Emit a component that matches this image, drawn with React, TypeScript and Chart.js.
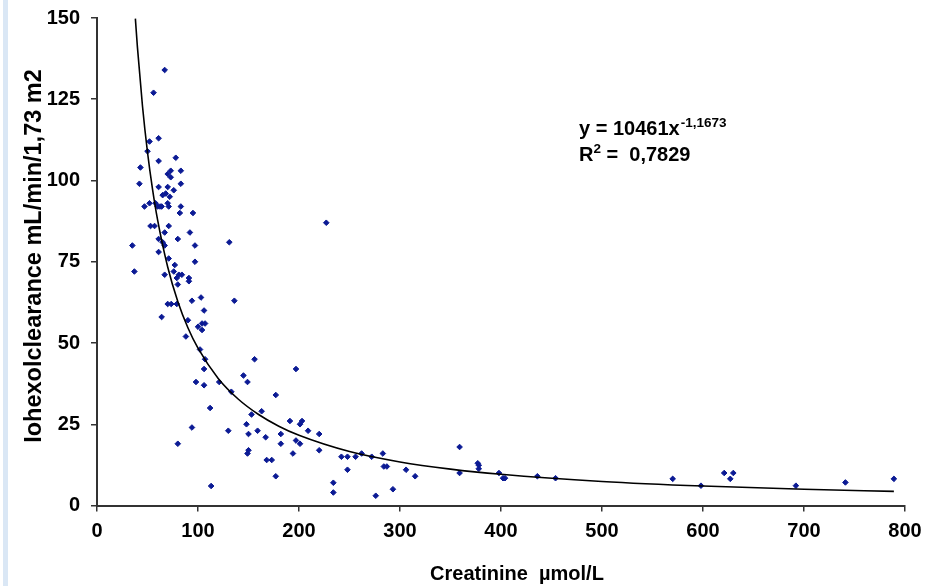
import React, { useEffect, useRef } from "react";
import { Chart, registerables } from "chart.js";

Chart.register(...registerables);

// Scatter data: creatinine (µmol/L) vs iohexol clearance (mL/min/1,73 m2)
const creatinine = [
  67, 56, 61, 52, 50, 78, 61, 43, 83, 73, 70, 73, 42, 61, 70, 83, 76, 68, 65, 72,
  47, 52, 58, 60, 62.5, 64, 70, 71, 83, 82, 95, 53, 57, 71, 67, 92, 61, 80, 65, 67,
  97, 35, 131, 61, 71, 97, 77, 37, 76, 67, 81, 84, 79, 91, 91, 80, 103, 94, 136, 70,
  73.5, 79, 106, 64, 90, 104, 107, 100, 104, 88, 102, 107, 156, 106, 197, 145, 98, 106, 121, 149,
  133, 177, 112, 163, 153, 148, 191, 203, 201, 94, 130, 159, 209, 220, 150, 182, 167, 197, 201, 182,
  80, 220, 150, 149, 194, 168, 173, 177, 113, 227, 242, 248, 256, 262, 272, 283, 284, 287, 248, 306,
  315, 234, 234, 276, 293, 359, 359, 377, 378, 378, 398, 402, 404, 436, 454, 570, 598, 621, 630, 627,
  692, 741, 789,
];
const iohexol = [
  134, 127, 113, 112, 109, 107, 106, 104, 103, 103, 102, 101, 99, 98, 98, 99, 97, 96, 95.5, 95,
  92, 93, 93, 92, 92, 92, 93, 92, 92, 90, 90, 86, 86, 86, 84, 84, 82, 82, 81, 80,
  80, 80, 81, 78, 76, 75, 74, 72, 72, 71, 71, 71, 70, 70, 69, 68, 64, 63, 63, 62,
  62, 62, 60, 58, 57, 56, 56, 55, 54, 52, 48, 45, 45, 42, 42, 40, 38, 37, 38, 38,
  35, 34, 30, 29, 28, 25, 26, 26, 25, 24, 23, 23, 23, 22, 22, 22, 21, 20, 19, 19,
  19, 17, 17, 16, 16, 14, 14, 9, 6, 87, 15, 15, 15, 16, 15, 16, 12, 12, 11, 11,
  9, 7, 4, 3, 5, 18, 10, 13, 12.4, 11.3, 10, 8.4, 8.4, 9, 8.4, 8.2, 6.1, 10, 10, 8.2,
  6.1, 7.1, 8.2,
];

// Power trend line as drawn (y = 10461x^-1,1673)
const trendX = [38, 40, 45, 50, 55, 60, 70, 80, 90, 100, 120, 140, 160, 180, 200, 250, 300, 350, 400, 500, 600, 700, 789];
const trendY = [149.8, 141.1, 123.0, 108.7, 97.3, 87.9, 73.4, 62.8, 54.7, 48.4, 39.1, 32.7, 28.0, 24.4, 21.6, 16.6, 13.4, 11.2, 9.6, 7.4, 5.98, 5.0, 4.34];

const xTitle = "Creatinine  µmol/L";
const yTitle = "Iohexolclearance mL/min/1,73 m2";
const eqMain = "y = 10461x";
const eqExp = "-1,1673";
const r2Label = "R";
const r2Sup = "2";
const r2Value = " =  0,7829";

const FONT = "'Liberation Sans', Arial, sans-serif";

const textPlugin = {
  id: "texts",
  afterDraw(chart: any) {
    const ctx = chart.ctx as CanvasRenderingContext2D;
    ctx.save();
    ctx.fillStyle = "#000";
    // x title
    ctx.font = `bold 20px ${FONT}`;
    ctx.textAlign = "center";
    ctx.textBaseline = "alphabetic";
    ctx.fillText(xTitle, 517, 580);
    // y title
    ctx.save();
    ctx.translate(41, 256);
    ctx.rotate(-Math.PI / 2);
    ctx.font = `bold 23.5px ${FONT}`;
    ctx.textAlign = "center";
    ctx.fillText(yTitle, 0, 0);
    ctx.restore();
    // equation
    ctx.textAlign = "left";
    ctx.font = `bold 20px ${FONT}`;
    ctx.fillText(eqMain, 579, 135);
    let w = ctx.measureText(eqMain).width;
    ctx.font = `bold 13.5px ${FONT}`;
    ctx.fillText(eqExp, 579 + w + 1, 127);
    ctx.font = `bold 20px ${FONT}`;
    ctx.fillText(r2Label, 579, 161);
    w = ctx.measureText(r2Label).width;
    ctx.font = `bold 13.5px ${FONT}`;
    ctx.fillText(r2Sup, 579 + w, 153);
    const w2 = ctx.measureText(r2Sup).width;
    ctx.font = `bold 20px ${FONT}`;
    ctx.fillText(r2Value, 579 + w + w2, 161);
    ctx.restore();
  },
};

export default function App() {
  const ref = useRef<HTMLCanvasElement>(null);
  useEffect(() => {
    if (!ref.current) return;
    const points = creatinine.map((x, i) => ({ x, y: iohexol[i] }));
    const trend = trendX.map((x, i) => ({ x, y: trendY[i] }));
    const tickFont = { family: FONT, weight: "bold" as const, size: 20 };
    const chart = new Chart(ref.current, {
      type: "scatter",
      data: {
        datasets: [
          {
            label: "trend",
            data: trend,
            showLine: true,
            borderColor: "#000",
            borderWidth: 1.6,
            pointRadius: 0,
            cubicInterpolationMode: "monotone",
            fill: false,
          } as any,
          {
            label: "data",
            data: points,
            pointStyle: "rectRot",
            pointRadius: 2.8,
            backgroundColor: "#0b1a94",
            borderColor: "#0b1a94",
            borderWidth: 1,
          },
        ],
      },
      options: {
        animation: false,
        responsive: false,
        devicePixelRatio: 1,
        layout: { padding: { left: 0, top: 18, right: 31, bottom: 0 } },
        plugins: { legend: { display: false }, tooltip: { enabled: false } },
        scales: {
          x: {
            type: "linear",
            min: 0,
            max: 800,
            ticks: { stepSize: 100, font: tickFont, color: "#000", padding: 8, maxRotation: 0 },
            grid: { drawOnChartArea: false, drawTicks: true, tickLength: 6, color: "#333", lineWidth: 1.5 },
            border: { color: "#333", width: 2 },
            afterFit: (s: any) => {
              s.height = 80.5;
              s.paddingLeft = 0;
              s.paddingRight = 0;
            },
          },
          y: {
            type: "linear",
            min: 0,
            max: 150,
            ticks: { stepSize: 25, font: tickFont, color: "#000", padding: 11 },
            grid: { drawOnChartArea: false, drawTicks: true, tickLength: 6, color: "#333", lineWidth: 1.5 },
            border: { color: "#333", width: 2 },
            afterFit: (s: any) => {
              s.width = 97;
              s.paddingTop = 0;
              s.paddingBottom = 0;
            },
          },
        },
      },
      plugins: [textPlugin],
    });
    return () => chart.destroy();
  }, []);
  return (
    <div style={{ position: "fixed", left: 0, top: 0, width: 936, height: 586, background: "#fff" }}>
      <div style={{ position: "absolute", left: 3, top: 0, width: 5, height: 586, background: "#dae7f5" }} />
      <canvas ref={ref} width={936} height={586} style={{ position: "absolute", left: 0, top: 0 }} />
    </div>
  );
}
